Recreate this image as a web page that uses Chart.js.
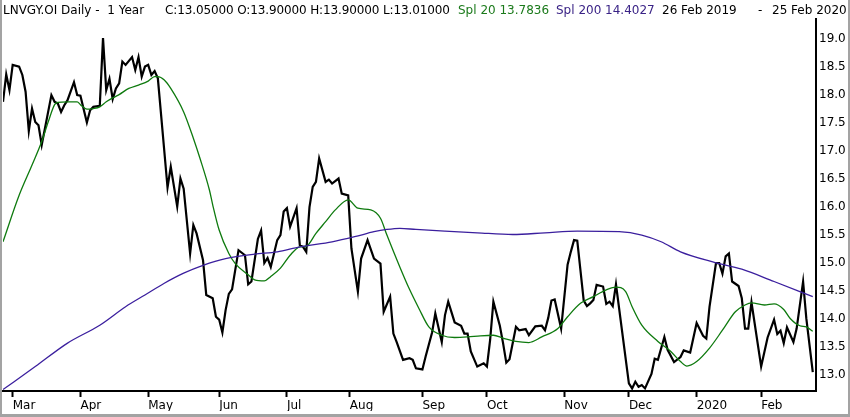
<!DOCTYPE html>
<html>
<head>
<meta charset="utf-8">
<script src="https://cdn.jsdelivr.net/npm/chart.js@4.4.0/dist/chart.umd.min.js"></script>
<style>
html, body { margin: 0; padding: 0; background: #fff; }
#frame {
    position: relative; width: 850px; height: 417px; box-sizing: border-box;
    border-left: 2px solid #a3a3a3; border-right: 2px solid #a3a3a3; border-bottom: 3px solid #a3a3a3;
    overflow: hidden;
}
#head { position: absolute; left: 0; top: 0; width: 100%; height: 18px; font: 12px "DejaVu Sans", sans-serif; color: #000; white-space: pre; z-index: 2; }
#head span { position: absolute; top: 3px; line-height: 14px; }
#wrap { position: absolute; left: 0; top: 0; width: 846px; height: 414px; }
</style>
</head>
<body>
<div id="frame">
  <div id="head">
    <span style="left:1px">LNVGY.OI Daily -  1 Year</span>
    <span style="left:163px;letter-spacing:-0.12px">C:13.05000 O:13.90000 H:13.90000 L:13.01000</span>
    <span style="left:456px;color:#1b7a1b">Spl 20 13.7836</span>
    <span style="left:554px;color:#3a2386">Spl 200 14.4027</span>
    <span style="left:660px">26 Feb 2019</span>
    <span style="left:756px">-</span>
    <span style="left:770px">25 Feb 2020</span>
  </div>
  <div id="wrap"><canvas id="chart" width="846" height="414"></canvas></div>
</div>
<script>
// Daily closes, x = trading day since 26 Feb 2019
const closeDay = [
    0, 1, 2, 3, 5, 6, 7, 8, 9, 10,
    11, 12, 15, 16, 17, 18, 19, 20, 22, 23,
    24, 26, 27, 28, 30, 31, 32, 33, 34, 35,
    36, 37, 38, 40, 41, 42, 43, 44, 45, 46,
    47, 48, 51, 52, 54, 55, 56, 58, 59, 60,
    62, 63, 65, 66, 67, 68, 69, 70, 71, 73,
    75, 76, 77, 79, 80, 81, 82, 83, 85, 86,
    87, 88, 89, 91, 92, 93, 94, 95, 96, 97,
    98, 100, 101, 102, 104, 105, 107, 108, 110, 111,
    113, 115, 117, 118, 120, 121, 122, 124, 126, 127,
    128, 130, 131, 133, 134, 136, 137, 138, 140, 142,
    143, 144, 145, 147, 149, 150, 151, 152, 154, 155,
    156, 157, 159, 160, 162, 163, 165, 167, 168, 169,
    170, 171, 173, 175, 176, 177, 178, 180, 181, 182,
    183, 184, 186, 187, 188, 189, 190, 194, 195, 196,
    197, 198, 199, 201, 202, 203, 205, 206, 208, 210,
    211, 213, 215, 217, 218, 219, 221, 222, 223, 224,
    225, 226, 228, 229, 230, 231, 232, 235, 237, 239,
    240, 241, 242, 243, 245, 246, 248, 249, 251
];
const closeVal = [
    17.88, 18.37, 18.09, 18.54, 18.51, 18.36, 18.06, 17.36, 17.76, 17.52,
    17.46, 17.11, 18.00, 17.88, 17.85, 17.70, 17.82, 17.91, 18.23, 18.00,
    17.99, 17.51, 17.73, 17.79, 17.81, 19.02, 18.09, 18.29, 17.93, 18.12,
    18.21, 18.60, 18.54, 18.68, 18.45, 18.68, 18.33, 18.51, 18.54, 18.36,
    18.43, 18.30, 16.35, 16.72, 16.01, 16.51, 16.33, 15.17, 15.68, 15.53,
    15.05, 14.43, 14.37, 14.04, 13.99, 13.76, 14.16, 14.45, 14.53, 15.23,
    15.14, 14.62, 14.67, 15.43, 15.58, 15.00, 15.09, 14.93, 15.41, 15.50,
    15.92, 15.98, 15.65, 15.98, 15.32, 15.29, 15.20, 16.00, 16.36, 16.45,
    16.87, 16.45, 16.49, 16.42, 16.51, 16.24, 16.21, 15.26, 14.49, 15.08,
    15.41, 15.08, 14.99, 14.13, 14.40, 13.74, 13.59, 13.27, 13.30, 13.27,
    13.12, 13.10, 13.33, 13.76, 14.10, 13.59, 14.07, 14.31, 13.94, 13.88,
    13.74, 13.74, 13.42, 13.15, 13.21, 13.15, 13.63, 14.31, 13.88, 13.57,
    13.22, 13.28, 13.86, 13.80, 13.82, 13.71, 13.87, 13.88, 13.80, 14.02,
    14.33, 14.35, 13.83, 14.97, 15.20, 15.41, 15.40, 14.33, 14.23, 14.28,
    14.34, 14.61, 14.58, 14.27, 14.31, 14.23, 14.62, 12.85, 12.76, 12.88,
    12.79, 12.82, 12.76, 13.02, 13.29, 13.27, 13.68, 13.45, 13.23, 13.32,
    13.44, 13.40, 13.93, 13.70, 13.65, 14.22, 15.00, 15.00, 14.81, 15.12,
    15.17, 14.67, 14.59, 14.37, 13.83, 13.83, 14.30, 13.15, 13.67, 13.99,
    13.73, 13.79, 13.57, 13.85, 13.59, 13.83, 14.67, 14.01, 13.05
];

// Simple moving average 20
const sma20Day = [
    0, 5, 9, 12, 14, 16, 17, 20, 23, 24, 26, 28, 30, 32, 34, 36, 39, 42, 45, 47,
    48, 50, 52, 56, 59, 61, 64, 65, 67, 70, 72, 76, 78, 81, 83, 86, 89, 92, 94, 97,
    100, 103, 107, 110, 114, 117, 119, 123, 126, 129, 132, 136, 140, 144, 148, 152, 155, 159, 163, 167,
    172, 175, 179, 183, 187, 190, 193, 195, 198, 203, 207, 210, 212, 215, 219, 223, 227, 230, 232, 236,
    239, 242, 244, 247, 249, 251
];
const sma20Val = [
    15.38, 16.21, 16.75, 17.17, 17.52, 17.83, 17.87, 17.88, 17.88, 17.83, 17.75, 17.76, 17.79, 17.88, 17.95, 18.01, 18.12, 18.18, 18.25, 18.33,
    18.33, 18.27, 18.12, 17.70, 17.23, 16.88, 16.30, 16.04, 15.59, 15.17, 14.99, 14.79, 14.70, 14.68, 14.76, 14.91, 15.14, 15.29, 15.30, 15.53,
    15.74, 15.95, 16.13, 15.98, 15.95, 15.80, 15.50, 14.93, 14.53, 14.18, 13.86, 13.71, 13.67, 13.68, 13.70, 13.71, 13.66, 13.60, 13.58, 13.68,
    13.83, 14.04, 14.28, 14.40, 14.52, 14.57, 14.49, 14.22, 13.89, 13.60, 13.42, 13.24, 13.16, 13.24, 13.48, 13.80, 14.13, 14.25, 14.29, 14.25,
    14.27, 14.17, 14.01, 13.88, 13.86, 13.78
];

// Simple moving average 200
const sma200Day = [0, 10, 20, 30, 38, 44, 50, 56, 62, 69, 78, 85, 92, 102, 109, 115,
    119, 123, 128, 137, 147, 158, 168, 178, 191, 198, 204, 210, 220, 229, 239, 251];
const sma200Val = [12.74, 13.15, 13.57, 13.89, 14.22, 14.43, 14.64, 14.82, 14.96, 15.08, 15.16, 15.20, 15.29, 15.38, 15.47, 15.56,
    15.60, 15.62, 15.60, 15.57, 15.54, 15.51, 15.54, 15.57, 15.56, 15.50, 15.38, 15.20, 15.02, 14.89, 14.67, 14.40];

const monthPos = [3, 24, 45, 67, 88, 107.5, 130, 150, 174, 194, 215, 235];
const monthLabels = ['Mar', 'Apr', 'May', 'Jun', 'Jul', 'Aug', 'Sep', 'Oct', 'Nov', 'Dec', '2020', 'Feb'];
const priceTicks = [13.0, 13.5, 14.0, 14.5, 15.0, 15.5, 16.0, 16.5, 17.0, 17.5, 18.0, 18.5, 19.0];

function toPoints(xs, ys) {
    return xs.map((x, i) => ({ x: x, y: ys[i] }));
}

const labelFont = { family: 'DejaVu Sans', size: 12 };

const ctx = document.getElementById('chart').getContext('2d');
new Chart(ctx, {
    type: 'line',
    data: {
        datasets: [
            { data: toPoints(sma200Day, sma200Val), borderColor: '#3b1f9e', borderWidth: 1.3, pointRadius: 0, cubicInterpolationMode: 'monotone' },
            { data: toPoints(sma20Day, sma20Val), borderColor: '#0e7a0e', borderWidth: 1.3, pointRadius: 0, cubicInterpolationMode: 'monotone' },
            { data: toPoints(closeDay, closeVal), borderColor: '#000', borderWidth: 2.2, pointRadius: 0, tension: 0 }
        ]
    },
    options: {
        animation: false,
        responsive: false,
        maintainAspectRatio: false,
        layout: { padding: { left: 1, top: 19, right: 0, bottom: 3 } },
        plugins: { legend: { display: false }, tooltip: { enabled: false } },
        scales: {
            x: {
                type: 'linear', min: 0, max: 252, position: 'bottom',
                afterBuildTicks: s => { s.ticks = monthPos.map(v => ({ value: v })); },
                afterFit: s => { s.height = 20; },
                ticks: {
                    autoSkip: false, maxRotation: 0, align: 'start', padding: 2,
                    color: '#000', font: labelFont,
                    callback: (v, i) => monthLabels[i]
                },
                grid: { drawOnChartArea: false, drawTicks: true, tickLength: 6, tickWidth: 2, tickColor: '#000' },
                border: { display: true, color: '#000', width: 2 }
            },
            y: {
                position: 'right', min: 12.714, max: 19.36,
                afterBuildTicks: s => { s.ticks = priceTicks.map(v => ({ value: v })); },
                afterFit: s => { s.width = 32; },
                ticks: {
                    padding: 3, color: '#000', font: labelFont,
                    callback: v => Number(v).toFixed(1)
                },
                grid: { display: false, drawTicks: false },
                border: { display: true, color: '#000', width: 2 }
            }
        }
    }
});
</script>
</body>
</html>
